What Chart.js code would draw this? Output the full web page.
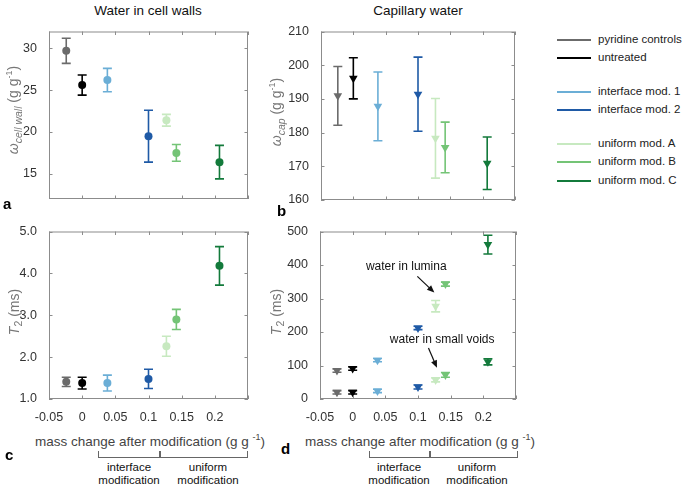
<!DOCTYPE html>
<html>
<head>
<meta charset="utf-8">
<script src="https://cdn.jsdelivr.net/npm/chart.js@4.4.1/dist/chart.umd.min.js"></script>
<style>
  body { margin: 0; background: #fff; font-family: "Liberation Sans", Arial, sans-serif; }
  #fig { position: relative; width: 685px; height: 487px; overflow: hidden; }
  #fig > * { position: absolute; }
  .title { font-size: 13.5px; color: #111; transform: translateX(-50%); white-space: nowrap; }
  .ylab { font-size: 14px; color: #777; white-space: nowrap; transform: translate(-50%, -50%) rotate(-90deg); }
  .ylab sub { font-size: 10.5px; }
  .ylab sup, .xlab sup { font-size: 9px; }
  .xlab { font-size: 13.5px; color: #444; white-space: nowrap; transform: translateX(-50%); }
  .letter { font-size: 15px; font-weight: bold; color: #000; }
  .bracket { height: 6px; border: 1px solid #666; border-top: none; }
  .btext { font-size: 11.5px; line-height: 13px; color: #111; text-align: center; transform: translateX(-50%); white-space: nowrap; }
  .leg { font-size: 11.5px; color: #222; white-space: nowrap; }
  .legline { width: 34px; height: 2px; }
</style>
</head>
<body>
<div id="fig">
  <canvas id="chartA" width="262" height="195" style="left:0;top:20px"></canvas>
  <canvas id="chartB" width="262" height="195" style="left:270px;top:20px"></canvas>
  <canvas id="chartC" width="262" height="205" style="left:0;top:220px"></canvas>
  <canvas id="chartD" width="262" height="205" style="left:270px;top:220px"></canvas>

  <div class="title" style="left:148px;top:3px">Water in cell walls</div>
  <div class="title" style="left:418px;top:3px">Capillary water</div>

  <div class="ylab" style="left:14px;top:110px"><i>ω</i><sub><i>cell wall</i></sub> (g g<sup>-1</sup>)</div>
  <div class="ylab" style="left:277px;top:112px"><i>ω</i><sub><i>cap</i></sub> (g g<sup>-1</sup>)</div>
  <div class="ylab" style="left:15px;top:312px"><i>T</i><sub>2</sub> (ms)</div>
  <div class="ylab" style="left:277px;top:312px"><i>T</i><sub>2</sub> (ms)</div>

  <div class="xlab" style="left:150px;top:432px">mass change after modification (g g <sup>-1</sup>)</div>
  <div class="xlab" style="left:420px;top:432px">mass change after modification (g g <sup>-1</sup>)</div>

  <div class="letter" style="left:3px;top:195px">a</div>
  <div class="letter" style="left:277px;top:202px">b</div>
  <div class="letter" style="left:5px;top:446px">c</div>
  <div class="letter" style="left:281px;top:440px">d</div>

  <div class="bracket" style="left:98px;top:451px;width:60px"></div>
  <div class="bracket" style="left:160px;top:451px;width:86px"></div>
  <div class="btext" style="left:129px;top:461px">interface<br>modification</div>
  <div class="btext" style="left:208px;top:461px">uniform<br>modification</div>

  <div class="bracket" style="left:369px;top:451px;width:59px"></div>
  <div class="bracket" style="left:430px;top:451px;width:86px"></div>
  <div class="btext" style="left:399px;top:461px">interface<br>modification</div>
  <div class="btext" style="left:477px;top:461px">uniform<br>modification</div>

  <div id="legend"></div>
</div>

<script>
// samples and colours
const samples = ["pyridine controls", "untreated", "interface mod. 1", "interface mod. 2",
                 "uniform mod. A", "uniform mod. B", "uniform mod. C"];
const colors = ["#6b6b6b", "#000000", "#6baed6", "#1f5aa6", "#c7e9c0", "#74c476", "#137a3b"];

// x: mass change after modification (g/g)
const massChange = [-0.024, 0, 0.038, 0.1, 0.127, 0.142, 0.207];

// a: water in cell walls
const wCellWall = [29.7, 25.6, 26.2, 19.5, 21.4, 17.5, 16.4];
const wCellWallErr = [1.5, 1.2, 1.4, 3.1, 0.7, 1.0, 2.0];
// b: capillary water
const wCap = [190.9, 196.1, 187.8, 191.4, 178.3, 175.6, 170.9];
const wCapErr = [8.7, 6.1, 10.2, 11.0, 11.8, 7.5, 7.8];
// c: T2 cell wall water
const t2CellWall = [1.41, 1.38, 1.38, 1.48, 2.26, 2.90, 4.18];
const t2CellWallErr = [0.11, 0.14, 0.19, 0.23, 0.24, 0.24, 0.46];
// d: T2 capillary water (lumina / small voids)
const t2Lumina = [85, 91, 116, 212, 277, 343, 461];
const t2LuminaErr = [5, 5, 5, 5, 17, 6, 28];
const t2Voids = [20, 20, 24, 36, 57, 72, 111];
const t2VoidsErr = [5, 5, 5, 6, 6, 7, 9];

// ticks
const xTicks = [-0.05, 0, 0.05, 0.1, 0.15, 0.2, 0.25];
const xTickLabels = ["-0.05", "0", "0.05", "0.1", "0.15", "0.2", ""];
const yTicksA = [15, 20, 25, 30];
const yTicksB = [160, 170, 180, 190, 200, 210];
const yTicksC = [1, 2, 3, 4, 5];
const yTicksD = [0, 100, 200, 300, 400, 500];

const FONT = "'Liberation Sans', Arial, sans-serif";

// error bars, drawn under the markers
const errorBars = {
  id: "errorBars",
  beforeDatasetsDraw(chart) {
    const ctx = chart.ctx, xs = chart.scales.x, ys = chart.scales.y;
    const cap = 4.5;
    chart.data.datasets.forEach(ds => {
      ds.data.forEach((p, i) => {
        const x = xs.getPixelForValue(p.x);
        const y1 = ys.getPixelForValue(p.y - ds.err[i]);
        const y2 = ys.getPixelForValue(p.y + ds.err[i]);
        ctx.save();
        ctx.strokeStyle = ds.borderColor;
        ctx.lineWidth = 1.6;
        ctx.beginPath();
        ctx.moveTo(x, y1); ctx.lineTo(x, y2);
        ctx.moveTo(x - cap, y1); ctx.lineTo(x + cap, y1);
        ctx.moveTo(x - cap, y2); ctx.lineTo(x + cap, y2);
        ctx.stroke();
        ctx.restore();
      });
    });
  }
};

// matlab style box with inward ticks on all sides
const boxTicks = {
  id: "boxTicks",
  afterDraw(chart) {
    const ctx = chart.ctx, a = chart.chartArea;
    const xs = chart.scales.x, ys = chart.scales.y, len = 3.5;
    ctx.save();
    ctx.strokeStyle = "#8c8c8c";
    ctx.lineWidth = 1;
    ctx.strokeRect(a.left + 0.5, a.top + 0.5, a.right - a.left - 1, a.bottom - a.top - 1);
    ctx.beginPath();
    xs.ticks.forEach(t => {
      const x = Math.round(xs.getPixelForValue(t.value)) + 0.5;
      ctx.moveTo(x, a.bottom); ctx.lineTo(x, a.bottom - len);
      ctx.moveTo(x, a.top); ctx.lineTo(x, a.top + len);
    });
    ys.ticks.forEach(t => {
      const y = Math.round(ys.getPixelForValue(t.value)) + 0.5;
      ctx.moveTo(a.left, y); ctx.lineTo(a.left + len, y);
      ctx.moveTo(a.right, y); ctx.lineTo(a.right - len, y);
    });
    ctx.stroke();
    ctx.restore();
  }
};

// arrows and labels in panel d
const annotD = {
  id: "annotD",
  afterDraw(chart) {
    const ctx = chart.ctx, xs = chart.scales.x, ys = chart.scales.y;
    const px = (x, y) => [xs.getPixelForValue(x), ys.getPixelForValue(y)];
    ctx.save();
    ctx.fillStyle = "#111";
    ctx.font = "12px " + FONT;
    ctx.textAlign = "center";
    ctx.textBaseline = "middle";
    let p = px(0.082, 394);
    ctx.fillText("water in lumina", p[0], p[1]);
    p = px(0.137, 177);
    ctx.fillText("water in small voids", p[0], p[1]);
    const arrow = (x1, y1, x2, y2) => {
      const a = px(x1, y1), b = px(x2, y2);
      const ang = Math.atan2(b[1] - a[1], b[0] - a[0]);
      ctx.strokeStyle = "#111";
      ctx.lineWidth = 1.2;
      ctx.beginPath(); ctx.moveTo(a[0], a[1]);
      ctx.lineTo(b[0] - 6 * Math.cos(ang), b[1] - 6 * Math.sin(ang)); ctx.stroke();
      ctx.beginPath();
      ctx.moveTo(b[0], b[1]);
      ctx.lineTo(b[0] - 8 * Math.cos(ang - 0.4), b[1] - 8 * Math.sin(ang - 0.4));
      ctx.lineTo(b[0] - 8 * Math.cos(ang + 0.4), b[1] - 8 * Math.sin(ang + 0.4));
      ctx.closePath(); ctx.fill();
    };
    arrow(0.099, 366, 0.125, 318);
    arrow(0.116, 152, 0.129, 93);
    ctx.restore();
  }
};

function makePanel(id, datasets, yMin, yMax, yTicks, yFmt, opts) {
  return new Chart(document.getElementById(id), {
    type: "scatter",
    data: { datasets },
    options: {
      responsive: false,
      animation: false,
      layout: { padding: { top: opts.top, right: opts.right, left: 0, bottom: 0 } },
      plugins: { legend: { display: false }, tooltip: { enabled: false } },
      scales: {
        x: {
          type: "linear", min: -0.05, max: 0.25,
          afterBuildTicks: s => { s.ticks = xTicks.map(v => ({ value: v })); },
          afterFit: s => { s.height = opts.xh; },
          grid: { display: false }, border: { display: false },
          ticks: {
            display: opts.showX, color: "#333", padding: 3,
            maxRotation: 0, minRotation: 0, autoSkip: false,
            font: { size: 12.5, family: FONT },
            callback: v => xTickLabels[xTicks.indexOf(v)]
          }
        },
        y: {
          min: yMin, max: yMax,
          afterBuildTicks: s => { s.ticks = yTicks.map(v => ({ value: v })); },
          afterFit: s => { s.width = opts.yw; },
          grid: { display: false }, border: { display: false },
          ticks: { color: "#333", padding: 4, font: { size: 12.5, family: FONT }, callback: yFmt }
        }
      }
    },
    plugins: [errorBars, boxTicks].concat(opts.extra || [])
  });
}

function sets(vals, errs, style, vals2, errs2) {
  return samples.map((name, i) => {
    const data = [{ x: massChange[i], y: vals[i] }];
    const err = [errs[i]];
    if (vals2) { data.push({ x: massChange[i], y: vals2[i] }); err.push(errs2[i]); }
    return {
      label: name, data, err,
      backgroundColor: colors[i], borderColor: colors[i], borderWidth: 0,
      pointStyle: style, rotation: style === "triangle" ? 180 : 0,
      pointRadius: style === "triangle" ? 5 : 4, showLine: false
    };
  });
}

makePanel("chartA", sets(wCellWall, wCellWallErr, "circle"), 12, 32, yTicksA, v => String(v),
  { top: 4, right: 14, yw: 49, xh: 16, showX: false });
makePanel("chartB", sets(wCap, wCapErr, "triangle"), 160, 210, yTicksB, v => String(v),
  { top: 5, right: 17, yw: 51, xh: 15, showX: false });
makePanel("chartC", sets(t2CellWall, t2CellWallErr, "circle"), 1, 5, yTicksC, v => v.toFixed(1),
  { top: 5, right: 14, yw: 49, xh: 26, showX: true });
makePanel("chartD", sets(t2Lumina, t2LuminaErr, "triangle", t2Voids, t2VoidsErr), 0, 500, yTicksD, v => String(v),
  { top: 5, right: 16, yw: 50, xh: 26, showX: true, extra: [annotD] });

// legend
const legTop = [33, 51, 85, 103, 137, 155, 174];
const leg = document.getElementById("legend");
leg.style.left = "0px"; leg.style.top = "0px";
samples.forEach((name, i) => {
  const line = document.createElement("div");
  line.className = "legline";
  line.style.cssText = "position:absolute;left:557px;top:" + (legTop[i] + 6) + "px;background:" + colors[i];
  const txt = document.createElement("div");
  txt.className = "leg";
  txt.style.cssText = "position:absolute;left:598px;top:" + legTop[i] + "px";
  txt.textContent = name;
  leg.appendChild(line); leg.appendChild(txt);
});
</script>
</body>
</html>
